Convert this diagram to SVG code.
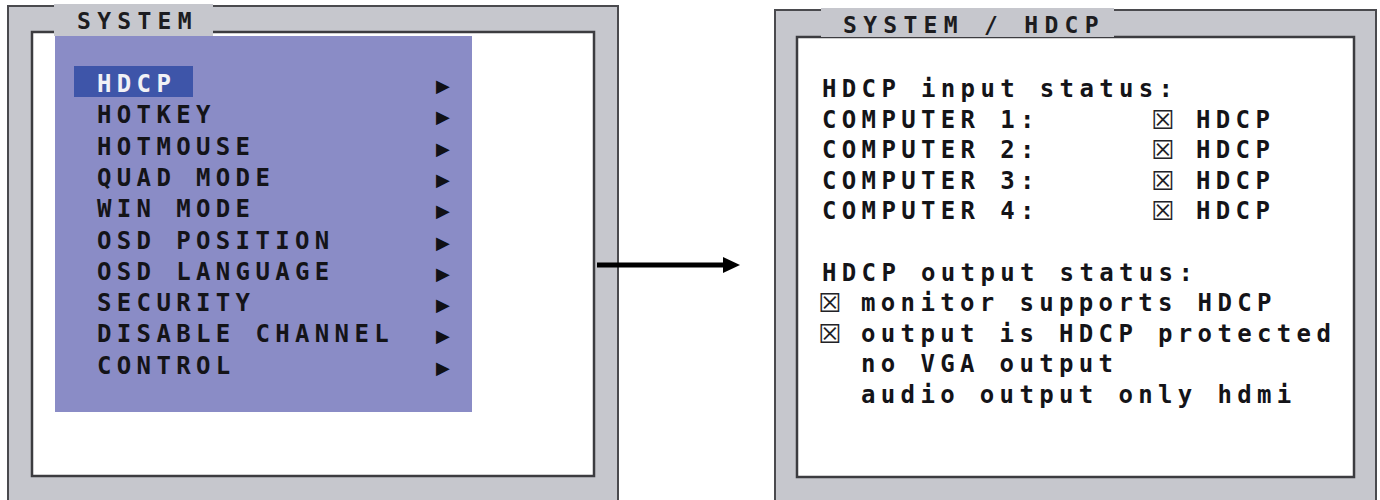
<svg xmlns="http://www.w3.org/2000/svg" width="1380" height="500" viewBox="0 0 1380 500">
  <style>
    .frame { fill: #c6c7cd; stroke: #4a4a4e; stroke-width: 2; }
    .screen { fill: #ffffff; stroke: #3c3c40; stroke-width: 2.5; }
    .tab { fill: #c6c7cd; }
    .osd { font-family: "DejaVu Sans Mono", "Liberation Mono", monospace; font-weight: bold; font-size: 24px; letter-spacing: 5.35px; fill: #141418; }
    .title { font-family: "DejaVu Sans Mono", "Liberation Mono", monospace; font-weight: bold; font-size: 23px; letter-spacing: 6.3px; fill: #1c1c20; }
    .sel { fill: #f2f2f6; }
    .ptr { font-family: "DejaVu Sans", sans-serif; font-size: 18px; fill: #111116; text-anchor: middle; }
    .box { font-family: "DejaVu Sans", sans-serif; font-size: 26px; fill: #222226; }
    .link { stroke: #000000; stroke-width: 5; fill: none; }
  </style>
  <defs>
    <marker id="head" viewBox="0 0 17 16" refX="0" refY="8" markerWidth="17" markerHeight="16" markerUnits="userSpaceOnUse" orient="auto">
      <path d="M0,0 L17,8 L0,16 Z" fill="#000000"/>
    </marker>
  </defs>

  <rect width="1380" height="500" fill="#ffffff"/>

  <!-- SYSTEM menu screen -->
  <g id="system-menu">
    <rect class="frame" x="8" y="6" width="610" height="500"/>
    <rect class="screen" x="32" y="32" width="562" height="444"/>
    <rect fill="#8a8cc6" x="55" y="36" width="417" height="376"/>
    <rect class="tab" x="54" y="4" width="159" height="32"/>
    <text class="title" x="77" y="29">SYSTEM</text>
    <rect fill="#3e55a9" x="74" y="66" width="119" height="31"/>
    <text class="osd sel" x="97" y="92">HDCP</text>
    <text class="osd" x="97" y="123.3">HOTKEY</text>
    <text class="osd" x="97" y="154.6">HOTMOUSE</text>
    <text class="osd" x="97" y="185.9">QUAD MODE</text>
    <text class="osd" x="97" y="217.2">WIN MODE</text>
    <text class="osd" x="97" y="248.5">OSD POSITION</text>
    <text class="osd" x="97" y="279.8">OSD LANGUAGE</text>
    <text class="osd" x="97" y="311.1">SECURITY</text>
    <text class="osd" x="97" y="342.4">DISABLE CHANNEL</text>
    <text class="osd" x="97" y="373.7">CONTROL</text>
    <text class="ptr" x="443" y="92">▶</text>
    <text class="ptr" x="443" y="123.3">▶</text>
    <text class="ptr" x="443" y="154.6">▶</text>
    <text class="ptr" x="443" y="185.9">▶</text>
    <text class="ptr" x="443" y="217.2">▶</text>
    <text class="ptr" x="443" y="248.5">▶</text>
    <text class="ptr" x="443" y="279.8">▶</text>
    <text class="ptr" x="443" y="311.1">▶</text>
    <text class="ptr" x="443" y="342.4">▶</text>
    <text class="ptr" x="443" y="373.7">▶</text>
  </g>

  <!-- SYSTEM / HDCP status screen -->
  <g id="hdcp-status">
    <rect class="frame" x="775" y="10" width="601" height="500"/>
    <rect class="screen" x="797" y="37" width="557" height="440"/>
    <rect class="tab" x="821" y="8" width="293" height="29"/>
    <text class="title" x="843" y="33">SYSTEM / HDCP</text>
    <text class="osd" x="822" y="97">HDCP input status:</text>
    <text class="osd" x="822" y="127.6">COMPUTER 1:</text>
    <text class="osd" x="822" y="158.2">COMPUTER 2:</text>
    <text class="osd" x="822" y="188.8">COMPUTER 3:</text>
    <text class="osd" x="822" y="219.4">COMPUTER 4:</text>
    <text class="box" x="1151" y="128.6">☒</text>
    <text class="box" x="1151" y="159.2">☒</text>
    <text class="box" x="1151" y="189.8">☒</text>
    <text class="box" x="1151" y="220.4">☒</text>
    <text class="osd" x="1196" y="127.6">HDCP</text>
    <text class="osd" x="1196" y="158.2">HDCP</text>
    <text class="osd" x="1196" y="188.8">HDCP</text>
    <text class="osd" x="1196" y="219.4">HDCP</text>
    <text class="osd" x="822" y="280.6">HDCP output status:</text>
    <text class="box" x="818" y="312.2">☒</text>
    <text class="box" x="818" y="342.8">☒</text>
    <text class="osd" x="861" y="311.2">monitor supports HDCP</text>
    <text class="osd" x="861" y="341.8">output is HDCP protected</text>
    <text class="osd" x="861" y="372.4">no VGA output</text>
    <text class="osd" x="861" y="403">audio output only hdmi</text>
  </g>

  <!-- connector -->
  <g id="connectors">
    <line class="link" x1="597" y1="265" x2="723" y2="265" marker-end="url(#head)"/>
  </g>
</svg>
